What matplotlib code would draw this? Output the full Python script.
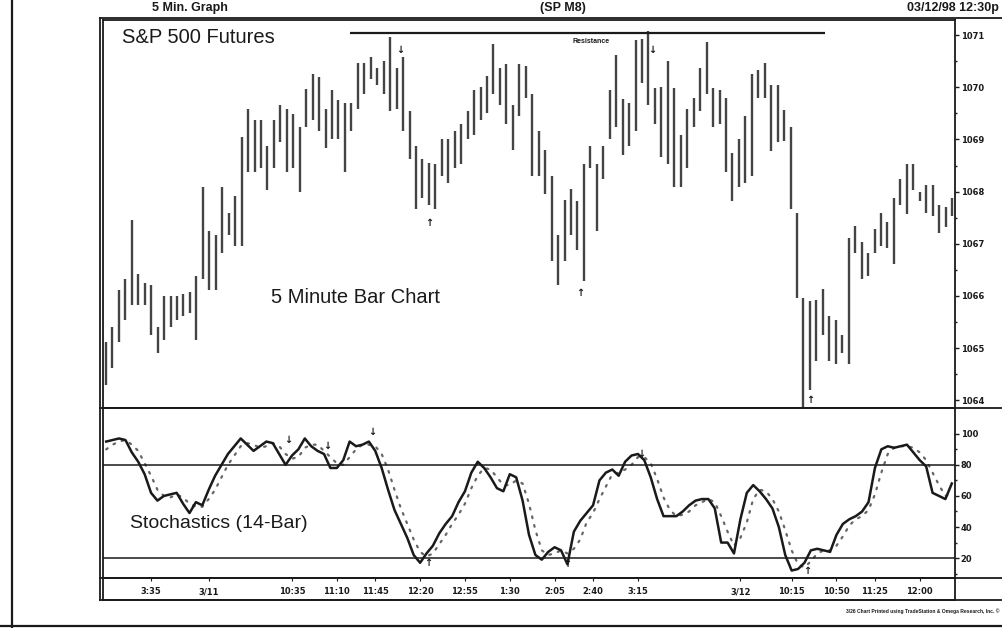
import matplotlib
matplotlib.use("Agg")
import matplotlib.pyplot as plt
from matplotlib.lines import Line2D
import numpy as np

plt.rcParams['font.family'] = ['Liberation Sans', 'DejaVu Sans']

# 5 minute bars, S&P 500 futures (high / low per bar)
highs = [1065.11, 1065.40, 1066.11, 1066.32, 1067.45, 1066.42, 1066.24, 1066.21, 1065.40, 1066.00,
         1066.00, 1066.00, 1066.03, 1066.07, 1066.38, 1068.08, 1067.24, 1067.16, 1068.08, 1067.59,
         1067.91, 1069.04, 1069.58, 1069.37, 1069.37, 1068.87, 1069.37, 1069.66, 1069.58, 1069.48,
         1069.24, 1069.96, 1070.25, 1070.19, 1069.58, 1069.94, 1069.75, 1069.69, 1069.69, 1070.46,
         1070.46, 1070.58, 1070.37, 1070.50, 1070.96, 1070.37, 1070.58, 1069.54, 1068.87,
         1068.62, 1068.55, 1068.53, 1069.00, 1069.00, 1069.16, 1069.29, 1069.54, 1069.94, 1070.00,
         1070.21, 1070.83, 1070.37, 1070.44, 1069.66, 1070.44, 1070.41, 1069.87, 1069.16, 1068.79,
         1068.30, 1067.16, 1067.84, 1068.05, 1067.82, 1068.53, 1068.87, 1068.53, 1068.87, 1069.94,
         1070.62, 1069.77, 1069.69, 1070.90, 1070.92, 1071.08, 1069.98, 1070.00, 1070.50, 1069.98,
         1069.08, 1069.58, 1069.79, 1070.37, 1070.87, 1069.98, 1069.94, 1069.79, 1068.74, 1069.00,
         1069.45, 1070.25, 1070.33, 1070.46, 1070.04, 1070.04, 1069.56, 1069.24, 1067.59, 1065.96,
         1065.90, 1065.92, 1066.13, 1065.61, 1065.53, 1065.25, 1067.11, 1067.34, 1067.03, 1066.82,
         1067.28, 1067.59, 1067.41, 1067.87, 1068.24, 1068.53, 1068.53, 1067.99, 1068.12, 1068.12,
         1067.74, 1067.70, 1067.87]
lows = [1064.29, 1064.61, 1065.11, 1065.53, 1065.82, 1065.82, 1065.82, 1065.25, 1064.90, 1065.15,
        1065.40, 1065.53, 1065.61, 1065.67, 1065.15, 1066.32, 1066.11, 1066.11, 1066.82, 1067.16,
        1066.95, 1066.95, 1068.37, 1068.37, 1068.45, 1068.03, 1068.45, 1068.95, 1068.37, 1068.45,
        1067.99, 1069.24, 1069.37, 1069.16, 1068.83, 1069.00, 1069.00, 1068.37, 1069.16, 1069.58,
        1069.87, 1070.16, 1070.04, 1069.87, 1069.54, 1069.58, 1069.16, 1068.62, 1067.66,
        1067.87, 1067.74, 1067.66, 1068.30, 1068.16, 1068.45, 1068.53, 1069.00, 1069.08, 1069.37,
        1069.50, 1069.87, 1069.66, 1069.29, 1068.79, 1069.45, 1069.79, 1068.30, 1068.30, 1067.95,
        1066.67, 1066.21, 1066.67, 1067.16, 1066.88, 1066.28, 1068.45, 1067.24, 1068.24, 1069.00,
        1069.24, 1068.70, 1068.87, 1069.16, 1070.08, 1069.66, 1069.29, 1068.66, 1068.53, 1068.08,
        1068.08, 1068.45, 1069.24, 1069.54, 1069.87, 1069.24, 1069.29, 1068.37, 1067.82, 1068.08,
        1068.16, 1068.30, 1069.79, 1069.79, 1068.77, 1068.95, 1068.97, 1067.66, 1065.96, 1063.73,
        1064.19, 1064.75, 1065.25, 1064.75, 1064.69, 1064.90, 1064.69, 1066.82, 1066.32, 1066.38,
        1066.82, 1066.95, 1066.91, 1066.61, 1067.74, 1067.57, 1068.03, 1067.82, 1067.59, 1067.53,
        1067.20, 1067.32, 1067.53]

# 14-bar stochastics: %K (solid) and %D (dotted)
stoch_k = [95, 96, 97, 96, 88, 82, 74, 62, 57, 60, 61, 62, 55, 49, 56, 54, 64, 73, 80, 87,
           92, 97, 93, 89, 92, 95, 94, 87, 80, 86, 90, 97, 92, 89, 87, 78, 78, 83, 95, 92,
           93, 95, 89, 78, 64, 51, 42, 33, 22, 17, 23, 28, 36, 42, 47, 56, 63, 75, 82, 78,
           72, 65, 63, 74, 72, 57, 35, 22, 19, 24, 27, 25, 16, 37, 44, 49, 54, 70, 75, 77,
           73, 82, 86, 87, 83, 72, 58, 47, 47, 47, 50, 54, 57, 58, 58, 52, 30, 30, 23, 45,
           62, 67, 63, 58, 52, 40, 22, 12, 13, 17, 25, 26, 25, 24, 35, 42, 45, 47, 50, 56,
           78, 90, 92, 91, 92, 93, 88, 83, 79, 62, 60, 58, 68]
stoch_d = [90, 93, 95, 96, 93, 89, 81, 73, 64, 60, 59, 61, 59, 55, 53, 53, 58, 64, 72, 80,
           86, 92, 94, 93, 91, 92, 94, 92, 87, 84, 85, 91, 93, 93, 89, 85, 81, 80, 85, 90,
           93, 93, 92, 87, 77, 64, 52, 42, 32, 24, 21, 23, 29, 35, 42, 48, 55, 65, 73, 78,
           77, 72, 67, 67, 70, 68, 55, 38, 25, 22, 23, 25, 23, 26, 32, 43, 49, 58, 66, 74,
           75, 77, 80, 85, 85, 81, 71, 59, 51, 47, 48, 50, 54, 56, 58, 56, 47, 37, 28, 33,
           43, 58, 64, 63, 58, 50, 38, 25, 16, 14, 18, 23, 25, 25, 28, 34, 41, 45, 47, 51,
           61, 75, 87, 91, 92, 92, 91, 88, 83, 75, 67, 60, 62]

time_labels = ["3:35", "3/11", "10:35", "11:10", "11:45", "12:20", "12:55", "1:30", "2:05",
               "2:40", "3:15", "3/12", "10:15", "10:50", "11:25", "12:00"]
time_bars = [7, 16, 29, 36, 42, 49, 56, 63, 70, 76, 83, 99, 107, 114, 120, 127]

price_ticks = [1064, 1065, 1066, 1067, 1068, 1069, 1070, 1071]
stoch_ticks = [20, 40, 60, 80, 100]

resistance = 1071.05
resist_from, resist_to = 37.8, 111.3

# signal arrows (bar, value, symbol)
price_marks = [(45.5, 1070.72, "↓"), (50, 1067.4, "↑"), (73.5, 1066.05, "↑"),
               (84.5, 1070.72, "↓"), (109, 1064.0, "↑")]
stoch_marks = [(28.4, 96, "↓"), (34.5, 92, "↓"), (41.5, 101, "↓"), (50.2, 17, "↑"),
               (71.9, 16, "↑"), (83.5, 87, "↓"), (109.5, 12, "↑")]

idx = np.arange(len(highs))
kdx = np.arange(len(stoch_k))
ink = "#1a1a1a"

fig = plt.figure(figsize=(10.02, 6.28), dpi=100)
W, H = 1002, 628
def fx(px): return px / W
def fy(py): return 1 - py / H

ax = fig.add_axes([fx(103), fy(408), fx(955) - fx(103), fy(20) - fy(408)])
ax2 = fig.add_axes([fx(103), fy(578), fx(955) - fx(103), fy(408) - fy(578)])
ax3 = fig.add_axes([fx(103), fy(600), fx(955) - fx(103), fy(578) - fy(600)])

# price bars
ax.vlines(idx, lows, highs, color="#444444", lw=1.7)
ax.hlines(resistance, resist_from, resist_to, color=ink, lw=1.6)
ax.text((resist_from + resist_to) / 2 + 0.5, resistance - 0.17, "Resistance", ha="center",
        va="center", fontsize=5, fontweight="bold", color=ink)
for b, v, s in price_marks:
    ax.text(b, v, s, ha="center", va="center", fontsize=7, fontweight="bold",
            family=["DejaVu Sans"], color=ink)
ax.text(0.022, 0.955, "S&P 500 Futures", transform=ax.transAxes, fontsize=14.5,
        color=ink, va="center")
ax.text(0.197, 0.285, "5 Minute Bar Chart", transform=ax.transAxes, fontsize=14.5,
        color=ink, va="center")
ax.set_xlim(-0.46, 131.46)
ax.set_ylim(1063.85, 1071.29)
ax.yaxis.tick_right()
ax.set_yticks(price_ticks)
ax.set_yticks(np.arange(1064, 1071.01, 0.5), minor=True)
ax.set_yticklabels([str(t) for t in price_ticks], fontsize=6, fontweight="bold",
                   family=["Liberation Sans Narrow", "DejaVu Sans"])
ax.tick_params(axis="y", which="major", length=3, width=1, pad=1, colors=ink)
ax.tick_params(axis="y", which="minor", length=1.5, width=1, colors=ink)
ax.set_xticks([])

# stochastics
ax2.plot(kdx, stoch_d, color="#666666", lw=1.6, linestyle=(0, (0.8, 3.2)),
         dash_capstyle="round")
ax2.plot(kdx, stoch_k, color=ink, lw=1.8)
ax2.axhline(80, color=ink, lw=1.1)
ax2.axhline(20, color=ink, lw=1.1)
for b, v, s in stoch_marks:
    ax2.text(b, v, s, ha="center", va="center", fontsize=7, fontweight="bold",
             family=["DejaVu Sans"], color=ink)
ax2.text(0.032, 0.32, "Stochastics (14-Bar)", transform=ax2.transAxes, fontsize=14,
         color=ink, va="center")
ax2.set_xlim(-0.5, 132.5)
ax2.set_ylim(7.2, 116.6)
ax2.yaxis.tick_right()
ax2.set_yticks(stoch_ticks)
ax2.set_yticks(np.arange(10, 101, 10), minor=True)
ax2.set_yticklabels([str(t) for t in stoch_ticks], fontsize=6, fontweight="bold",
                    family=["Liberation Sans Narrow", "DejaVu Sans"])
ax2.tick_params(axis="y", which="major", length=3, width=1, pad=1, colors=ink)
ax2.tick_params(axis="y", which="minor", length=1.5, width=1, colors=ink)
ax2.set_xticks([])

# time strip
ax3.set_xlim(-0.5, 132.5)
ax3.set_ylim(0, 1)
ax3.set_yticks([])
ax3.set_xticks(time_bars)
ax3.set_xticklabels([])
ax3.tick_params(axis="x", direction="in", length=2, top=True, bottom=False, colors=ink)
for b, lab in zip(time_bars, time_labels):
    ax3.text(b, 0.38, lab, ha="center", va="center", fontsize=6, fontweight="bold",
             family=["Liberation Sans Narrow", "DejaVu Sans"], color=ink)

for a in (ax, ax2, ax3):
    for sp in a.spines.values():
        sp.set_linewidth(1.3)
        sp.set_color(ink)

# frame lines reaching past the price scale, page border
for py in (18, 408, 578, 600):
    fig.add_artist(Line2D([fx(100), 1], [fy(py), fy(py)], color=ink, lw=1.3))
fig.add_artist(Line2D([fx(100), fx(100)], [fy(18), fy(600)], color=ink, lw=1.3))
fig.add_artist(Line2D([fx(12), fx(12)], [0, 1], color=ink, lw=1.6))
fig.add_artist(Line2D([0, 1], [fy(626), fy(626)], color=ink, lw=1.6))

# header along the top edge, footer under the chart
fig.text(fx(190), fy(8), "5 Min. Graph", ha="center", va="center", fontsize=9,
         fontweight="bold", color=ink)
fig.text(fx(563), fy(8), "(SP M8)", ha="center", va="center", fontsize=9,
         fontweight="bold", color=ink)
fig.text(fx(999), fy(8), "03/12/98 12:30p", ha="right", va="center", fontsize=9,
         fontweight="bold", color=ink)
fig.text(fx(1000), fy(611), "3/26 Chart Printed using TradeStation & Omega Research, Inc. ©",
         ha="right", va="center", fontsize=3.6, fontweight="bold", color=ink)

fig.savefig("out.png", dpi=100)
